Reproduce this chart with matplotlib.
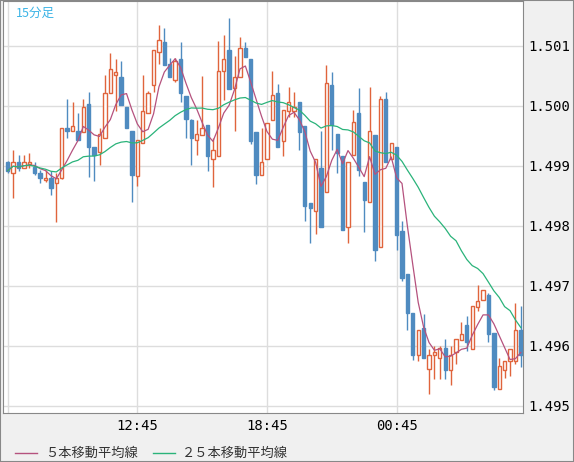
import matplotlib
matplotlib.use("Agg")
import matplotlib.pyplot as plt
from matplotlib.patches import Rectangle
from matplotlib.lines import Line2D
import numpy as np
import pandas as pd

opens = [1.49906,1.49889,1.49907,1.49897,1.49904,1.49899,1.49889,1.49877,1.49880,1.49872,
 1.49880,1.49963,1.49958,1.49958,1.49956,1.50003,1.49931,1.49924,1.49947,1.50021,
 1.50051,1.50048,1.49998,1.49959,1.49884,1.49939,1.49989,1.50035,1.50090,1.50107,
 1.50070,1.50043,1.50078,1.50016,1.49976,1.49944,1.49951,1.49969,1.49912,1.49916,
 1.50058,1.50093,1.50030,1.50048,1.50097,1.50078,1.49956,1.49885,1.49911,1.49976,
 1.50021,1.49942,1.49991,1.49991,1.50006,1.49966,1.49839,1.49825,1.49896,1.49857,
 1.50035,1.49953,1.49917,1.49798,1.49919,1.49989,1.49874,1.49840,1.49951,1.49765,
 1.50011,1.49911,1.49931,1.49792,1.49720,1.49654,1.49584,1.49629,1.49562,1.49585,
 1.49579,1.49596,1.49559,1.49589,1.49609,1.49634,1.49594,1.49664,1.49676,1.49684,
 1.49621,1.49528,1.49560,1.49574,1.49574,1.49626]
highs = [1.49909,1.49926,1.49919,1.49919,1.49921,1.49907,1.49894,1.49894,1.49891,1.49889,
 1.49964,1.50011,1.50006,1.49989,1.50011,1.50023,1.49931,1.49964,1.50051,1.50088,
 1.50078,1.50075,1.49998,1.49959,1.49944,1.50051,1.50025,1.50093,1.50135,1.50130,
 1.50080,1.50080,1.50107,1.50016,1.49979,1.49976,1.50050,1.49969,1.49946,1.50108,
 1.50118,1.50147,1.50083,1.50115,1.50107,1.50078,1.49956,1.49963,1.49971,1.50058,
 1.50036,1.49993,1.50031,1.50023,1.50006,1.49966,1.49839,1.49912,1.49958,1.50068,
 1.50056,1.49953,1.49917,1.49907,1.49993,1.50030,1.49874,1.50031,1.49951,1.50016,
 1.50023,1.49939,1.49931,1.49808,1.49720,1.49654,1.49626,1.49653,1.49594,1.49599,
 1.49599,1.49612,1.49599,1.49612,1.49639,1.49649,1.49666,1.49701,1.49693,1.49688,
 1.49621,1.49580,1.49574,1.49594,1.49671,1.49666]
lows = [1.49889,1.49847,1.49892,1.49896,1.49896,1.49885,1.49872,1.49874,1.49852,1.49807,
 1.49879,1.49947,1.49958,1.49944,1.49956,1.49882,1.49875,1.49902,1.49947,1.50021,
 1.49991,1.50001,1.49964,1.49840,1.49867,1.49939,1.49989,1.50023,1.50070,1.50068,
 1.50048,1.50040,1.50006,1.49947,1.49902,1.49919,1.49951,1.49892,1.49865,1.49916,
 1.50010,1.50028,1.49958,1.50048,1.50082,1.49937,1.49870,1.49885,1.49911,1.49976,
 1.49932,1.49916,1.49981,1.49981,1.49926,1.49808,1.49772,1.49787,1.49798,1.49857,
 1.49926,1.49889,1.49793,1.49772,1.49919,1.49884,1.49790,1.49840,1.49741,1.49765,
 1.49906,1.49911,1.49760,1.49708,1.49627,1.49577,1.49575,1.49579,1.49520,1.49545,
 1.49545,1.49545,1.49535,1.49570,1.49609,1.49592,1.49594,1.49658,1.49676,1.49607,
 1.49527,1.49528,1.49547,1.49549,1.49570,1.49565]
closes = [1.49892,1.49907,1.49896,1.49906,1.49906,1.49889,1.49880,1.49880,1.49864,1.49880,
 1.49963,1.49958,1.49966,1.49944,1.49998,1.49932,1.49919,1.49953,1.50021,1.50061,
 1.50056,1.50001,1.49964,1.49885,1.49944,1.49991,1.50021,1.50093,1.50110,1.50068,
 1.50048,1.50075,1.50021,1.49978,1.49947,1.49953,1.49963,1.49916,1.49926,1.50058,
 1.50078,1.50028,1.50048,1.50097,1.50082,1.49942,1.49885,1.49907,1.49971,1.50018,
 1.49932,1.49993,1.50006,1.49998,1.49956,1.49834,1.49830,1.49912,1.49798,1.50038,
 1.49969,1.49921,1.49793,1.49907,1.49973,1.49894,1.49844,1.49959,1.49760,1.50011,
 1.49906,1.49939,1.49785,1.49713,1.49654,1.49584,1.49626,1.49579,1.49585,1.49589,
 1.49596,1.49559,1.49585,1.49612,1.49619,1.49606,1.49666,1.49674,1.49693,1.49619,
 1.49532,1.49567,1.49574,1.49594,1.49626,1.49584]

tick_pos = [24, 48, 72]
tick_labels = ["12:45", "18:45", "00:45"]
y_ticks = [1.495, 1.496, 1.497, 1.498, 1.499, 1.500, 1.501]

UP = "#e0643c"; DOWN = "#4f8bc0"
fig = plt.figure(figsize=(5.74, 4.62), dpi=100)
fig.patch.set_facecolor("#f0f0f0")
ax = fig.add_axes([3/574, 49/462, 520/574, 412/462])
ax.set_facecolor("white")

n = len(opens)
x = np.arange(n)
w = 0.62
for i in range(n):
    o, h, l, c = opens[i], highs[i], lows[i], closes[i]
    up = c >= o
    col = UP if up else DOWN
    top, bot = max(o, c), min(o, c)
    ax.vlines(i, l, h, color=col, lw=1.0, zorder=3)
    if up:
        ax.add_patch(Rectangle((i - w/2, bot), w, max(top - bot, 1e-6), facecolor="white",
                               edgecolor=col, lw=1.0, zorder=4))
    else:
        ax.add_patch(Rectangle((i - w/2, bot), w, max(top - bot, 1e-6), facecolor=col,
                               edgecolor=col, lw=1.0, zorder=4))

cs = pd.Series(closes)
ma5 = cs.rolling(5, min_periods=1).mean()
ma25 = cs.rolling(25, min_periods=1).mean()
ax.plot(x, ma5, color="#b5527e", lw=0.9, zorder=5)
ax.plot(x, ma25, color="#2ab37a", lw=0.9, zorder=5)

ax.set_xlim(-0.87, 95.4)
ax.set_ylim(1.49488, 1.50175)
ax.set_yticks(y_ticks)
ax.set_yticklabels([f"{v:.3f}" for v in y_ticks], family="DejaVu Sans Mono", fontsize=10)
ax.yaxis.tick_right()
ax.set_xticks(tick_pos)
ax.set_xticklabels(tick_labels, family="DejaVu Sans Mono", fontsize=10)
ax.set_xticks([0] + tick_pos, minor=False)
ax.set_xticklabels([""] + tick_labels, family="DejaVu Sans Mono", fontsize=10)
ax.tick_params(length=0, pad=4)
ax.grid(True, color="#dddddd", lw=1)
ax.set_axisbelow(True)
for s in ax.spines.values():
    s.set_color("#888888")
ax.text(0.025, 0.985, "15分足", transform=ax.transAxes, color="#3cb4e6", fontsize=9,
        va="top", family=["Noto Sans CJK JP", "DejaVu Sans"])

fig.add_artist(Line2D([15/574, 37/574], [9/462, 9/462], color="#b5527e", lw=1))
fig.text(45/574, 9/462, "５本移動平均線", fontsize=9.5, va="center",
         family=["Noto Sans CJK JP", "DejaVu Sans"], color="#333333")
fig.add_artist(Line2D([153/574, 175/574], [9/462, 9/462], color="#2ab37a", lw=1))
fig.text(182/574, 9/462, "２５本移動平均線", fontsize=9.5, va="center",
         family=["Noto Sans CJK JP", "DejaVu Sans"], color="#333333")
fig.add_artist(Rectangle((0, 0), 1, 1, transform=fig.transFigure, fill=False,
                         edgecolor="#888888", lw=1.5))
fig.savefig("out.png", dpi=100, facecolor=fig.get_facecolor())
